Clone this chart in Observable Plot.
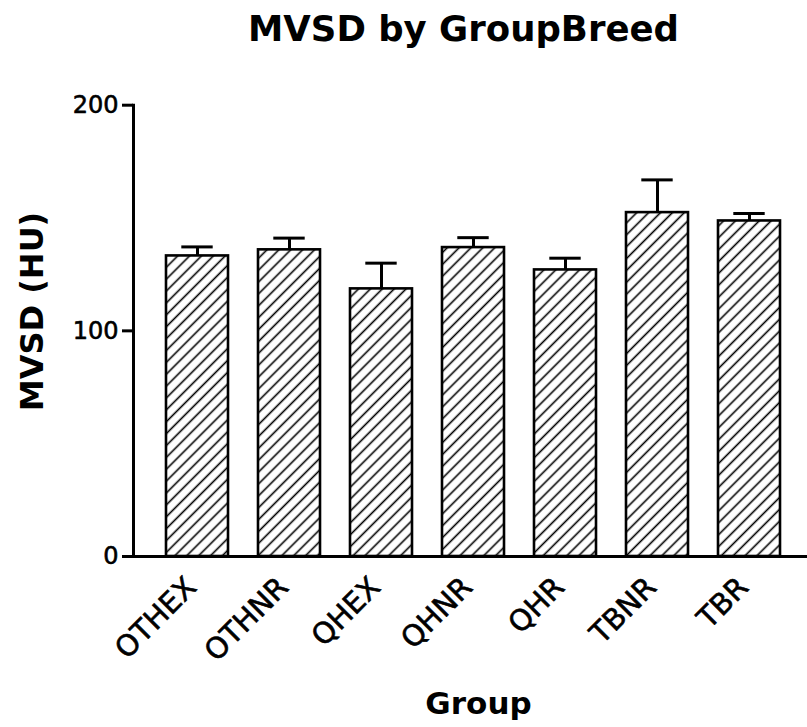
<!DOCTYPE html>
<html>
<head>
<meta charset="utf-8">
<script src="https://cdn.jsdelivr.net/npm/d3@7"></script>
<script src="https://cdn.jsdelivr.net/npm/@observablehq/plot@0.6"></script>
<style>
  html, body { margin: 0; padding: 0; background: #fff; }
  #chart svg { display: block; }
</style>
</head>
<body>
<div id="chart"></div>
<script>
// Mean MVSD per breed group, with the upward SEM whisker
const groups = ["OTHEX", "OTHNR", "QHEX", "QHNR", "QHR", "TBNR", "TBR"];
const means  = [133.2, 135.9, 118.6, 136.9, 127.0, 152.4, 148.7];
const errors = [4.0, 5.2, 11.4, 4.4, 5.2, 14.5, 3.3];
const yTicks = [0, 100, 200];

const title = "MVSD by GroupBreed";
const yLabel = "MVSD (HU)";
const xLabel = "Group";

const rows = groups.map((g, i) => ({group: g, mean: means[i], upper: means[i] + errors[i]}));

const font = "DejaVu Sans";

const chart = Plot.plot({
  width: 807,
  height: 727,
  marginTop: 104.7,
  marginBottom: 171,
  marginLeft: 133,
  marginRight: 0,
  style: {fontFamily: font, background: "#fff", color: "#000"},
  x: {domain: groups, range: [133.5, 812], paddingInner: 0.324, paddingOuter: 0.33, axis: null},
  y: {domain: [0, 200], axis: null},
  marks: [
    // hatched bars
    Plot.barY(rows, {x: "group", y: "mean", fill: "url(#hatch)", stroke: "#000", strokeWidth: 2.6}),
    // whiskers and caps
    Plot.ruleX(rows, {x: "group", y1: "mean", y2: "upper", stroke: "#000", strokeWidth: 3}),
    Plot.tickY(rows, {x: "group", y: "upper", stroke: "#000", strokeWidth: 3, insetLeft: 15.3, insetRight: 15.3}),
    // axes
    Plot.frame({anchor: "left", stroke: "#000", strokeWidth: 3}),
    Plot.ruleY([0], {stroke: "#000", strokeWidth: 3.2}),
    Plot.axisY({ticks: yTicks, tickSize: 11, strokeWidth: 3, tickFormat: () => "", label: null}),
    Plot.text(yTicks, {y: d => d, frameAnchor: "left", dx: -15, textAnchor: "end", lineAnchor: "middle", fontSize: 24, fontFamily: font, fill: "#000", stroke: "#000", strokeWidth: 0.6}),
    Plot.text(groups, {x: d => d, frameAnchor: "bottom", dx: -6, dy: 26, rotate: -45, textAnchor: "end", lineAnchor: "middle", fontSize: 29, fontFamily: font, fill: "#000", stroke: "#000", strokeWidth: 0.6}),
    // titles
    Plot.text([title], {frameAnchor: "top", dx: -7, dy: -75.2, textAnchor: "middle", lineAnchor: "middle", fontSize: 35.5, fontWeight: "bold", fontFamily: font, fill: "#000"}),
    Plot.text([yLabel], {frameAnchor: "left", rotate: -90, dx: -100.5, dy: -19.4, textAnchor: "middle", lineAnchor: "middle", fontSize: 32, fontWeight: "bold", fontFamily: font, fill: "#000"}),
    Plot.text([xLabel], {frameAnchor: "bottom", dx: 8, dy: 147.4, textAnchor: "middle", lineAnchor: "middle", fontSize: 31, fontWeight: "bold", fontFamily: font, fill: "#000"})
  ]
});

// diagonal "/" hatch used as the bar fill
const defs = d3.select(chart).insert("defs", ":first-child");
const pat = defs.append("pattern")
  .attr("id", "hatch")
  .attr("patternUnits", "userSpaceOnUse")
  .attr("width", 8.4)
  .attr("height", 8.4)
  .attr("patternTransform", "rotate(45)");
pat.append("rect").attr("width", 8.4).attr("height", 8.4).attr("fill", "#fff");
pat.append("line")
  .attr("x1", 4.2).attr("y1", 0).attr("x2", 4.2).attr("y2", 8.4)
  .attr("stroke", "#000").attr("stroke-width", 1.6);

document.getElementById("chart").appendChild(chart);
</script>
</body>
</html>
